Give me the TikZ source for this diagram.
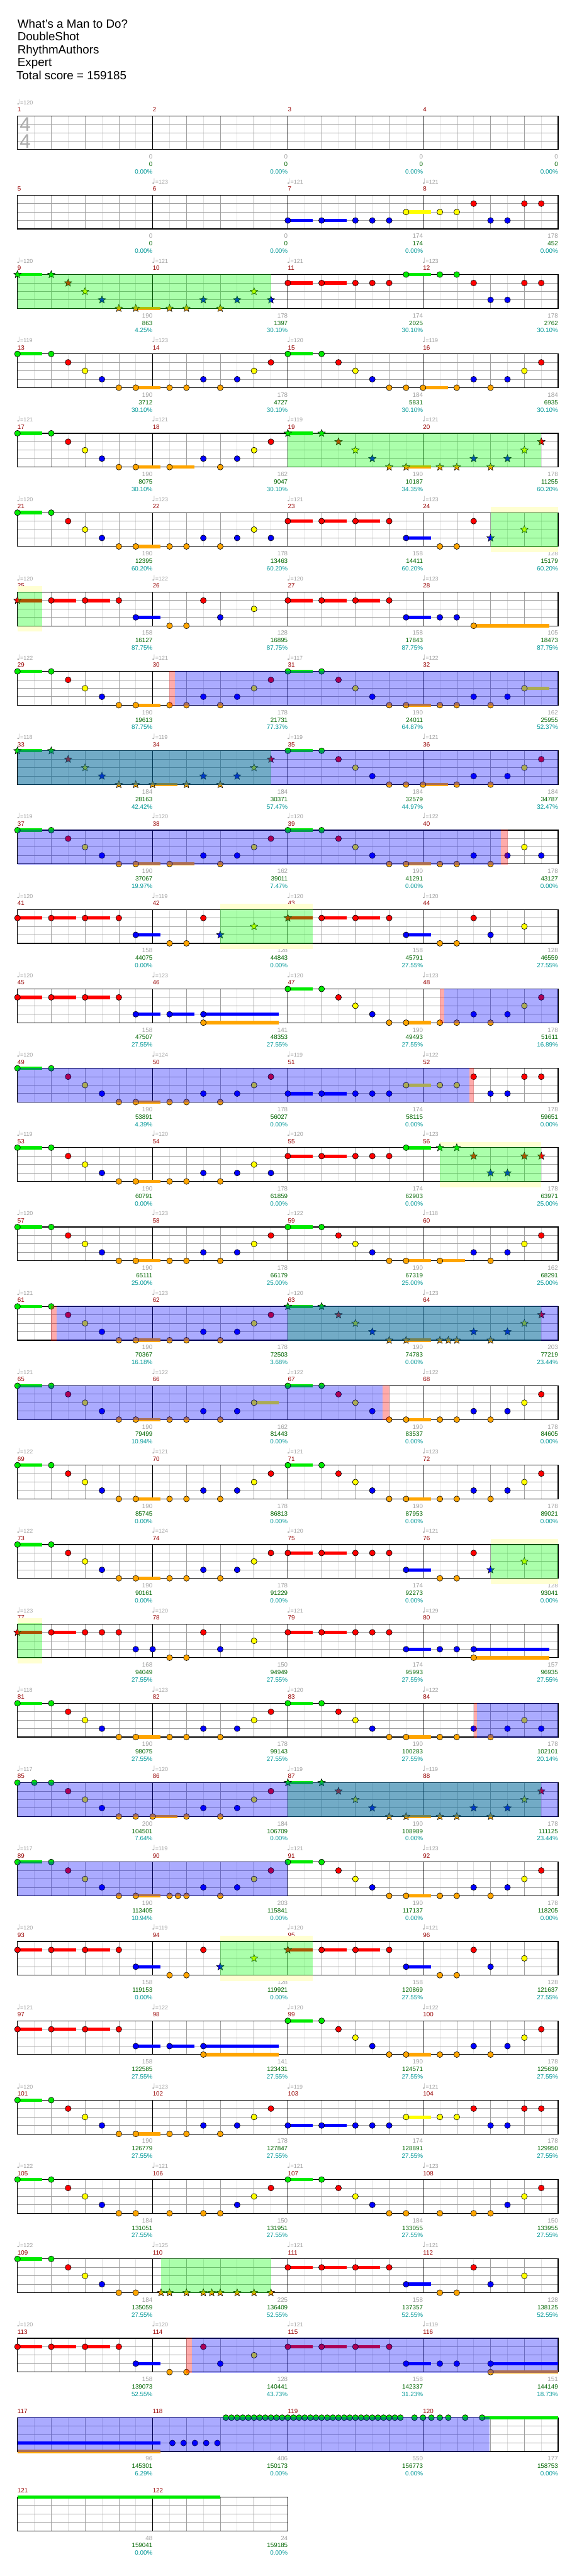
\documentclass[tikz,border=0pt]{standalone}
\usepackage{fontspec}
\setmainfont{Liberation Sans}
\newfontfamily\symfont{DejaVu Sans}
\usetikzlibrary{shapes.geometric}

\definecolor{l0}{RGB}{0,235,0}
\definecolor{l1}{RGB}{255,0,0}
\definecolor{l2}{RGB}{255,255,0}
\definecolor{l3}{RGB}{0,0,255}
\definecolor{l4}{RGB}{255,165,0}
\definecolor{mred}{RGB}{150,0,0}
\definecolor{tgray}{RGB}{160,160,160}
\definecolor{sgreen}{RGB}{0,100,0}
\definecolor{pteal}{RGB}{0,150,150}
\definecolor{gridlight}{RGB}{222,222,222}
\definecolor{gridbeat}{RGB}{160,160,160}
\definecolor{ylight}{RGB}{255,255,210}

\tikzset{
  title/.style={anchor=base west,inner sep=0pt,font=\fontsize{21}{21}\selectfont},
  mnum/.style={anchor=base west,inner sep=0pt,text=mred,font=\fontsize{11}{11}\selectfont},
  tempo/.style={anchor=base west,inner sep=0pt,text=tgray,font=\fontsize{10}{10}\selectfont},
  ticks/.style={anchor=base east,inner sep=0pt,text=tgray,font=\fontsize{11}{11}\selectfont},
  score/.style={anchor=base east,inner sep=0pt,text=sgreen,font=\fontsize{11}{11}\selectfont},
  pct/.style={anchor=base east,inner sep=0pt,text=pteal,font=\fontsize{11}{11}\selectfont},
  timesig/.style={inner sep=0pt,text=gray!65,font=\fontsize{35}{35}\selectfont},
  eighth/.style={draw=gridlight,line width=0.8pt},
  beat/.style={draw=gridbeat,line width=0.8pt},
  lane/.style={draw=gridbeat,line width=1pt},
  bar/.style={draw=black,line width=0.9pt},
  frame/.style={draw=black,line width=1.3pt},
  note/.style={draw=black,line width=0.7pt},
  sustain/.style={line width=6pt},
  starnote/.style={star,star points=5,star point ratio=2.3,minimum size=14pt,
    inner sep=0pt,draw=black,line width=0.6pt},
  sparea/.style={fill={rgb,255:red,0;green,255;blue,0},fill opacity=0.33},
  odarea/.style={fill={rgb,255:red,0;green,0;blue,255},fill opacity=0.33},
  pinkarea/.style={fill={rgb,255:red,255;green,0;blue,0},fill opacity=0.33},
  yelbox/.style={fill=ylight},
  rowat/.style={yshift={-141pt*#1}}
}

% measure numbers and the three figures under each measure
\newcommand\labels[2]{%
  \gdef\cur{#1}%
  \foreach \gv/\sv/\pv [count=\i from 0] in {#2}{
    \pgfmathtruncatemacro\mnr{#1+\i}
    \node[mnum] (m\mnr) at (8*\i,-0.493) {\mnr};
    \node[ticks] (t\mnr) at (8*\i+8,5.107) {\gv};
    \node[score] (sc\mnr) at (8*\i+8,5.993) {\sv};
    \node[pct] (p\mnr) at (8*\i+8,6.88) {\pv\%};
  }}
\newcommand\tempos[2]{%
  \foreach \i/\tv in {#2}{
    \pgfmathtruncatemacro\mnr{#1+\i}
    \node[tempo] (bpm\mnr) at (8*\i-0.05,-1.347)
      {{\symfont\fontsize{13}{13}\selectfont\char"2669}=\tv};
  }}
% the five lanes and the beat grid
\newcommand\staff[1]{%
  \pgfmathtruncatemacro\kend{8*#1}
  \pgfmathtruncatemacro\klast{8*#1-1}
  \pgfmathtruncatemacro\mlast{#1-1}
  \fill[white] (0,0) rectangle (\kend,4);
  \foreach \k in {1,3,...,\klast} \draw[eighth] (\k,0) -- (\k,4);
  \foreach \k in {2,4,...,\klast} \draw[beat] (\k,0) -- (\k,4);
  \foreach \l in {1,2,3} \draw[lane] (0,\l) -- (\kend,\l);
  \foreach \m in {1,...,\mlast} \draw[bar] (8*\m,0) -- (8*\m,4);
  \draw[frame] (0,0) rectangle (\kend,4);
}
\newcommand\notes[1]{\foreach \k/\l in {#1} \draw[note,fill=l\l] (\k,\l) circle (5.2pt);}
\newcommand\susn[1]{\foreach \k/\l/\e in {#1} \draw[sustain,draw=l\l] (\k,\l) -- (\e,\l);}
\newcommand\stars[1]{\foreach \k/\l [count=\i] in {#1} \node[starnote,fill=l\l] (s\cur-\i) at (\k,\l) {};}
\newcommand\spzone[2]{\fill[sparea] (#1,-0.05) rectangle (#2,4.05);}
\newcommand\odzone[2]{\fill[odarea] (#1,-0.06) rectangle (#2,4.06);}
\newcommand\pinkzone[2]{\fill[pinkarea] (#1,-0.06) rectangle (#2,4.06);}
\newcommand\ybox[2]{\fill[yelbox] (#1,-0.667) rectangle (#2,4.667);}

\begin{document}
\begin{tikzpicture}[x=30pt,y=-15pt]
  \useasboundingbox (-1.03333,-13.7133) rectangle (33.1,291.3533);

  \node[title] (song) at (0,-10.427) {What\char39 s a Man to Do?};
  \node[title] (band) at (0,-8.893) {DoubleShot};
  \node[title] (charter) at (0,-7.36) {RhythmAuthors};
  \node[title] (level) at (0,-5.827) {Expert};
  \node[title] (total) at (-0.07,-4.293) {Total score = 159185};

  % 1-4
  \begin{scope}[rowat=0]
    \labels{1}{0/0/0.00,0/0/0.00,0/0/0.00,0/0/0.00}
    \tempos{1}{0/120}
    \staff{4}
    \node[timesig] (tsa) at (0.457,1) {4};
    \node[timesig] (tsb) at (0.457,3) {4};
  \end{scope}

  % 5-8
  \begin{scope}[rowat=1]
    \labels{5}{0/0/0.00,0/0/0.00,174/174/0.00,178/452/0.00}
    \tempos{5}{1/123,2/121,3/121}
    \staff{4}
    \susn{16/3/17.47,18/3/19.47,23/2/24.47}
    \notes{16/3,18/3,20/3,21/3,22/3,23/2,25/2,26/2,27/1,28/3,29/3,30/1,31/1}
  \end{scope}

  % 9-12
  \begin{scope}[rowat=2]
    \labels{9}{190/863/4.25,178/1397/30.10,174/2025/30.10,178/2762/30.10}
    \tempos{9}{0/120,1/121,2/121,3/123}
    \staff{4}
    \susn{0/0/1.47,7/4/8.47,16/1/17.47,18/1/19.47,23/0/24.47}
    \stars{0/0,2/0,3/1,4/2,5/3,6/4,7/4,9/4,10/4,11/3,12/4,13/3,14/2,15/3}
    \notes{16/1,18/1,20/1,21/1,22/1,23/0,25/0,26/0,27/1,28/3,29/3,30/1,31/1}
    \spzone{0}{15}
  \end{scope}

  % 13-16
  \begin{scope}[rowat=3]
    \labels{13}{190/3712/30.10,178/4727/30.10,184/5831/30.10,184/6935/30.10}
    \tempos{13}{0/119,1/123,2/120,3/119}
    \staff{4}
    \susn{0/0/1.47,7/4/8.47,16/0/17.47,24/4/25.47}
    \notes{0/0,2/0,3/1,4/2,5/3,6/4,7/4,9/4,10/4,11/3,12/4,13/3,14/2,15/1,
      16/0,18/0,19/1,20/2,21/3,22/4,23/4,24/4,26/4,27/3,28/4,29/3,30/2,31/1}
  \end{scope}

  % 17-20
  \begin{scope}[rowat=4]
    \labels{17}{190/8075/30.10,162/9047/30.10,190/10187/34.35,178/11255/60.20}
    \tempos{17}{0/121,1/121,2/119,3/121}
    \staff{4}
    \susn{0/0/1.47,7/4/8.47,9/4/10.47,16/0/17.47,23/4/24.47}
    \notes{0/0,2/0,3/1,4/2,5/3,6/4,7/4,9/4,11/3,12/4,13/3,14/2,15/1}
    \stars{16/0,18/0,19/1,20/2,21/3,22/4,23/4,25/4,26/4,27/3,28/4,29/3,30/2,31/1}
    \spzone{16}{31}
  \end{scope}

  % 21-24
  \begin{scope}[rowat=5]
    \labels{21}{190/12395/60.20,178/13463/60.20,158/14411/60.20,128/15179/60.20}
    \tempos{21}{0/120,1/123,2/121,3/123}
    \ybox{28}{32}
    \staff{4}
    \susn{0/0/1.47,7/4/8.47,16/1/17.47,18/1/19.47,20/1/21.47,23/3/24.47}
    \notes{0/0,2/0,3/1,4/2,5/3,6/4,7/4,9/4,10/4,11/3,12/4,13/3,14/2,15/3,
      16/1,18/1,20/1,22/1,23/3,25/4,26/4,27/1}
    \stars{28/3,30/2}
    \spzone{28}{32}
  \end{scope}

  % 25-28
  \begin{scope}[rowat=6]
    \labels{25}{158/16127/87.75,128/16895/87.75,158/17843/87.75,105/18473/87.75}
    \tempos{25}{0/120,1/122,2/120,3/123}
    \ybox{0}{1.47}
    \staff{4}
    \susn{0/1/1.47,2/1/3.47,4/1/5.47,7/3/8.47,16/1/17.47,18/1/19.47,20/1/21.47,
      23/3/24.47,27/4/31.47}
    \stars{0/1}
    \notes{2/1,4/1,6/1,7/3,9/4,10/4,11/1,12/3,14/2,16/1,18/1,20/1,22/1,23/3,
      25/3,26/3,27/4}
    \spzone{0}{1.47}
  \end{scope}

  % 29-32
  \begin{scope}[rowat=7]
    \labels{29}{190/19613/87.75,178/21731/77.37,190/24011/64.87,162/25955/52.37}
    \tempos{29}{0/122,1/121,2/117,3/122}
    \staff{4}
    \susn{0/0/1.47,7/4/8.47,16/0/17.47,23/4/24.47,30/2/31.47}
    \notes{0/0,2/0,3/1,4/2,5/3,6/4,7/4,9/4,10/4,11/3,12/4,13/3,14/2,15/1,
      16/0,18/0,19/1,20/2,21/3,22/4,23/4,25/4,26/4,27/3,28/4,29/3,30/2}
    \pinkzone{9}{9.33}
    \odzone{9.33}{32}
  \end{scope}

  % 33-36
  \begin{scope}[rowat=8]
    \labels{33}{184/28163/42.42,184/30371/57.47,184/32579/44.97,184/34787/32.47}
    \tempos{33}{0/118,1/119,2/119,3/121}
    \staff{4}
    \susn{0/0/1.47,8/4/9.47,16/0/17.47,24/4/25.47}
    \stars{0/0,2/0,3/1,4/2,5/3,6/4,7/4,8/4,10/4,11/3,12/4,13/3,14/2,15/1}
    \notes{16/0,18/0,19/1,20/2,21/3,22/4,23/4,24/4,26/4,27/3,28/4,29/3,30/2,31/1}
    \spzone{0}{15}
    \odzone{0}{32}
  \end{scope}

  % 37-40
  \begin{scope}[rowat=9]
    \labels{37}{190/37067/19.97,162/39011/7.47,190/41291/0.00,178/43127/0.00}
    \tempos{37}{0/119,1/120,2/120,3/122}
    \staff{4}
    \susn{0/0/1.47,7/4/8.47,9/4/10.47,16/0/17.47,23/4/24.47}
    \notes{0/0,2/0,3/1,4/2,5/3,6/4,7/4,9/4,11/3,12/4,13/3,14/2,15/1,
      16/0,18/0,19/1,20/2,21/3,22/4,23/4,25/4,26/4,27/3,28/4,29/3,30/2,31/3}
    \odzone{0}{28.6}
    \pinkzone{28.6}{29}
  \end{scope}

  % 41-44
  \begin{scope}[rowat=10]
    \labels{41}{158/44075/0.00,128/44843/0.00,158/45791/27.55,128/46559/27.55}
    \tempos{41}{0/120,1/119,2/120,3/120}
    \ybox{12}{17.47}
    \staff{4}
    \susn{0/1/1.47,2/1/3.47,4/1/5.47,7/3/8.47,16/1/17.47,18/1/19.47,20/1/21.47,
      23/3/24.47}
    \notes{0/1,2/1,4/1,6/1,7/3,9/4,10/4,11/1,18/1,20/1,22/1,23/3,25/4,26/4,
      27/1,28/3,30/2}
    \stars{12/3,14/2,16/1}
    \spzone{12}{17.47}
  \end{scope}

  % 45-48
  \begin{scope}[rowat=11]
    \labels{45}{158/47507/27.55,141/48353/27.55,190/49493/27.55,178/51611/16.89}
    \tempos{45}{0/120,1/123,2/120,3/123}
    \staff{4}
    \susn{0/1/1.47,2/1/3.47,4/1/5.47,7/3/8.47,9/3/10.47,11/3/15.47,11/4/15.47,
      16/0/17.47,23/4/24.47}
    \notes{0/1,2/1,4/1,6/1,7/3,9/3,11/3,11/4,16/0,18/0,19/1,20/2,21/3,22/4,
      23/4,25/4,26/4,27/3,28/4,29/3,30/2,31/1}
    \pinkzone{25}{25.25}
    \odzone{25.25}{32}
  \end{scope}

  % 49-52
  \begin{scope}[rowat=12]
    \labels{49}{190/53891/4.39,178/56027/0.00,174/58115/0.00,178/59651/0.00}
    \tempos{49}{0/120,1/124,2/119,3/122}
    \staff{4}
    \susn{0/0/1.47,7/4/8.47,16/3/17.47,18/3/19.47,23/2/24.47}
    \notes{0/0,2/0,3/1,4/2,5/3,6/4,7/4,9/4,10/4,11/3,12/4,13/3,14/2,15/1,
      16/3,18/3,20/3,21/3,22/3,23/2,25/2,26/2,27/1,28/3,29/3,30/1,31/1}
    \odzone{0}{26.75}
    \pinkzone{26.75}{27}
  \end{scope}

  % 53-56
  \begin{scope}[rowat=13]
    \labels{53}{190/60791/0.00,178/61859/0.00,174/62903/0.00,178/63971/25.00}
    \tempos{53}{0/119,1/120,2/120,3/123}
    \ybox{25}{31}
    \staff{4}
    \susn{0/0/1.47,7/4/8.47,16/1/17.47,18/1/19.47,23/0/24.47}
    \notes{0/0,2/0,3/1,4/2,5/3,6/4,7/4,9/4,10/4,11/3,12/4,13/3,14/2,15/3,
      16/1,18/1,20/1,21/1,22/1,23/0}
    \stars{25/0,26/0,27/1,28/3,29/3,30/1,31/1}
    \spzone{25}{31}
  \end{scope}

  % 57-60
  \begin{scope}[rowat=14]
    \labels{57}{190/65111/25.00,178/66179/25.00,190/67319/25.00,162/68291/25.00}
    \tempos{57}{0/120,1/123,2/122,3/118}
    \staff{4}
    \susn{0/0/1.47,7/4/8.47,16/0/17.47,23/4/24.47,25/4/26.47}
    \notes{0/0,2/0,3/1,4/2,5/3,6/4,7/4,9/4,10/4,11/3,12/4,13/3,14/2,15/1,
      16/0,18/0,19/1,20/2,21/3,22/4,23/4,25/4,27/3,28/4,29/3,30/2,31/1}
  \end{scope}

  % 61-64
  \begin{scope}[rowat=15]
    \labels{61}{190/70367/16.18,178/72503/3.68,190/74783/0.00,203/77219/23.44}
    \tempos{61}{0/121,1/123,2/120,3/123}
    \staff{4}
    \susn{0/0/1.47,7/4/8.47,16/0/17.47,23/4/24.47}
    \notes{0/0,2/0,3/1,4/2,5/3,6/4,7/4,9/4,10/4,11/3,12/4,13/3,14/2,15/1}
    \stars{16/0,18/0,19/1,20/2,21/3,22/4,23/4,25/4,25.5/4,26/4,27/3,28/4,29/3,
      30/2,31/1}
    \spzone{16}{31}
    \pinkzone{2}{2.33}
    \odzone{2.33}{32}
  \end{scope}

  % 65-68
  \begin{scope}[rowat=16]
    \labels{65}{190/79499/10.94,162/81443/0.00,190/83537/0.00,178/84605/0.00}
    \tempos{65}{0/121,1/122,2/122,3/122}
    \staff{4}
    \susn{0/0/1.47,7/4/8.47,14/2/15.47,16/0/17.47,23/4/24.47}
    \notes{0/0,2/0,3/1,4/2,5/3,6/4,7/4,9/4,10/4,11/3,12/4,13/3,14/2,
      16/0,18/0,19/1,20/2,21/3,22/4,23/4,25/4,26/4,27/3,28/4,29/3,30/2,31/1}
    \odzone{0}{21.6}
    \pinkzone{21.6}{22}
  \end{scope}

  % 69-72
  \begin{scope}[rowat=17]
    \labels{69}{190/85745/0.00,178/86813/0.00,190/87953/0.00,178/89021/0.00}
    \tempos{69}{0/122,1/121,2/121,3/123}
    \staff{4}
    \susn{0/0/1.47,7/4/8.47,16/0/17.47,23/4/24.47}
    \notes{0/0,2/0,3/1,4/2,5/3,6/4,7/4,9/4,10/4,11/3,12/4,13/3,14/2,15/1,
      16/0,18/0,19/1,20/2,21/3,22/4,23/4,25/4,26/4,27/3,28/4,29/3,30/2,31/1}
  \end{scope}

  % 73-76
  \begin{scope}[rowat=18]
    \labels{73}{190/90161/0.00,178/91229/0.00,174/92273/0.00,128/93041/0.00}
    \tempos{73}{0/122,1/124,2/120,3/121}
    \ybox{28}{32}
    \staff{4}
    \susn{0/0/1.47,7/4/8.47,16/1/17.47,18/1/19.47,23/3/24.47}
    \notes{0/0,2/0,3/1,4/2,5/3,6/4,7/4,9/4,10/4,11/3,12/4,13/3,14/2,15/1,
      16/1,18/1,20/1,21/1,22/1,23/3,25/4,26/4,27/1}
    \stars{28/3,30/2}
    \spzone{28}{32}
  \end{scope}

  % 77-80
  \begin{scope}[rowat=19]
    \labels{77}{168/94049/27.55,150/94949/27.55,174/95993/27.55,157/96935/27.55}
    \tempos{77}{0/123,1/120,2/121,3/129}
    \ybox{0}{1.47}
    \staff{4}
    \susn{0/1/1.47,2/1/3.47,16/1/17.47,18/1/19.47,23/3/24.47,27/3/31.47,27/4/31.47}
    \stars{0/1}
    \notes{2/1,4/1,5/1,6/1,7/3,8/3,9/4,10/4,11/1,12/3,14/2,16/1,18/1,20/1,
      21/1,22/1,23/3,25/3,26/3,27/3,27/4}
    \spzone{0}{1.47}
  \end{scope}

  % 81-84
  \begin{scope}[rowat=20]
    \labels{81}{190/98075/27.55,178/99143/27.55,190/100283/27.55,178/102101/20.14}
    \tempos{81}{0/118,1/123,2/120,3/122}
    \staff{4}
    \susn{0/0/1.47,7/4/8.47,16/0/17.47,23/4/24.47}
    \notes{0/0,2/0,3/1,4/2,5/3,6/4,7/4,9/4,10/4,11/3,12/4,13/3,14/2,15/1,
      16/0,18/0,19/1,20/2,21/3,22/4,23/4,25/4,26/4,27/3,28/4,29/3,30/2,31/3}
    \pinkzone{27}{27.2}
    \odzone{27.2}{32}
  \end{scope}

  % 85-88
  \begin{scope}[rowat=21]
    \labels{85}{200/104501/7.64,184/106709/0.00,190/108989/0.00,178/111125/23.44}
    \tempos{85}{0/117,1/120,2/119,3/119}
    \staff{4}
    \susn{8/4/9.47,16/0/17.47,23/4/24.47}
    \notes{0/0,1/0,2/0,3/1,4/2,5/3,6/4,7/4,8/4,10/4,11/3,12/4,13/3,14/2,15/1}
    \stars{16/0,18/0,19/1,20/2,21/3,22/4,23/4,25/4,26/4,27/3,28/4,29/3,30/2,31/1}
    \spzone{16}{31}
    \odzone{0}{32}
  \end{scope}

  % 89-92
  \begin{scope}[rowat=22]
    \labels{89}{190/113405/10.94,203/115841/0.00,190/117137/0.00,178/118205/0.00}
    \tempos{89}{0/117,1/119,2/121,3/123}
    \staff{4}
    \susn{0/0/1.47,7/4/8.47,16/0/17.47,23/4/24.47}
    \notes{0/0,2/0,3/1,4/2,5/3,6/4,7/4,9/4,9.5/4,10/4,11/3,12/4,13/3,14/2,15/1,
      16/0,18/0,19/1,20/2,21/3,22/4,23/4,25/4,26/4,27/3,28/4,29/3,30/2,31/1}
    \odzone{0}{16}
  \end{scope}

  % 93-96
  \begin{scope}[rowat=23]
    \labels{93}{158/119153/0.00,128/119921/0.00,158/120869/27.55,128/121637/27.55}
    \tempos{93}{0/120,1/119,2/120,3/121}
    \ybox{12}{17.47}
    \staff{4}
    \susn{0/1/1.47,2/1/3.47,4/1/5.47,7/3/8.47,16/1/17.47,18/1/19.47,20/1/21.47,
      23/3/24.47}
    \notes{0/1,2/1,4/1,6/1,7/3,9/4,10/4,11/1,18/1,20/1,22/1,23/3,25/4,26/4,
      27/1,28/3,30/2}
    \stars{12/3,14/2,16/1}
    \spzone{12}{17.47}
  \end{scope}

  % 97-100
  \begin{scope}[rowat=24]
    \labels{97}{158/122585/27.55,141/123431/27.55,190/124571/27.55,178/125639/27.55}
    \tempos{97}{0/121,1/122,2/120,3/122}
    \staff{4}
    \susn{0/1/1.47,2/1/3.47,4/1/5.47,7/3/8.47,9/3/10.47,11/3/15.47,11/4/15.47,
      16/0/17.47,23/4/24.47}
    \notes{0/1,2/1,4/1,6/1,7/3,9/3,11/3,11/4,16/0,18/0,19/1,20/2,21/3,22/4,
      23/4,25/4,26/4,27/3,28/4,29/3,30/2,31/1}
  \end{scope}

  % 101-104
  \begin{scope}[rowat=25]
    \labels{101}{190/126779/27.55,178/127847/27.55,174/128891/27.55,178/129950/27.55}
    \tempos{101}{0/120,1/123,2/119,3/121}
    \staff{4}
    \susn{0/0/1.47,7/4/8.47,16/3/17.47,18/3/19.47,23/2/24.47}
    \notes{0/0,2/0,3/1,4/2,5/3,6/4,7/4,9/4,10/4,11/3,12/4,13/3,14/2,15/1,
      16/3,18/3,20/3,21/3,22/3,23/2,25/2,26/2,27/1,28/3,29/3,30/1,31/1}
  \end{scope}

  % 105-108
  \begin{scope}[rowat=26]
    \labels{105}{184/131051/27.55,150/131951/27.55,184/133055/27.55,150/133955/27.55}
    \tempos{105}{0/122,1/121,2/121,3/123}
    \staff{4}
    \susn{0/0/1.47,16/0/17.47}
    \notes{0/0,2/0,3/1,4/2,5/3,6/4,7/4,9/4,11/4,12/4,13/3,14/2,15/1,
      16/0,18/0,19/1,20/2,21/3,22/4,23/4,25/4,27/4,28/4,29/3,30/2,31/1}
  \end{scope}

  % 109-112
  \begin{scope}[rowat=27]
    \labels{109}{184/135059/27.55,225/136409/52.55,158/137357/52.55,128/138125/52.55}
    \tempos{109}{0/122,1/125,2/121,3/121}
    \staff{4}
    \susn{0/0/1.47,16/1/17.47,18/1/19.47,20/1/21.47,23/3/24.47}
    \notes{0/0,2/0,3/1,4/2,5/3,6/4,7/4,16/1,18/1,20/1,22/1,23/3,25/4,26/4,
      27/1,28/3,30/2}
    \stars{8.5/4,9/4,10/4,11/4,11.5/4,12/4,13/4,14/4,15/4}
    \spzone{8.5}{15}
  \end{scope}

  % 113-116
  \begin{scope}[rowat=28]
    \labels{113}{158/139073/52.55,128/140441/43.73,158/142337/31.23,151/144149/18.73}
    \tempos{113}{0/120,1/120,2/121,3/119}
    \staff{4}
    \susn{0/1/1.47,2/1/3.47,4/1/5.47,7/3/8.47,16/1/17.47,18/1/19.47,20/1/21.47,
      23/3/24.47,28/3/32,28/4/32}
    \notes{0/1,2/1,4/1,6/1,7/3,9/4,10/4,11/1,12/3,14/2,16/1,18/1,20/1,22/1,
      23/3,25/3,26/3,28/3,28/4}
    \pinkzone{10}{10.33}
    \odzone{10.33}{32}
  \end{scope}

  % 117-120
  \begin{scope}[rowat=29]
    \labels{117}{96/145301/6.29,406/150173/0.00,550/156773/0.00,177/158753/0.00}
    \staff{4}
    \susn{0/3/8.47,0/4/8.47,27.5/0/32}
    \notes{9.17/3,9.83/3,10.5/3,11.17/3,11.83/3}
    \foreach \j in {0,...,31} \draw[note,fill=l0] ({12.333+\j/3},0) circle (5.2pt);
    \notes{23.5/0,24/0,24.5/0,25/0,25.5/0,26.5/0,27.5/0}
    \odzone{0}{27.95}
  \end{scope}

  % 121-122
  \begin{scope}[rowat=30]
    \labels{121}{48/159041/0.00,24/159185/0.00}
    \staff{2}
    \susn{0/0/12}
  \end{scope}
\end{tikzpicture}
\end{document}
